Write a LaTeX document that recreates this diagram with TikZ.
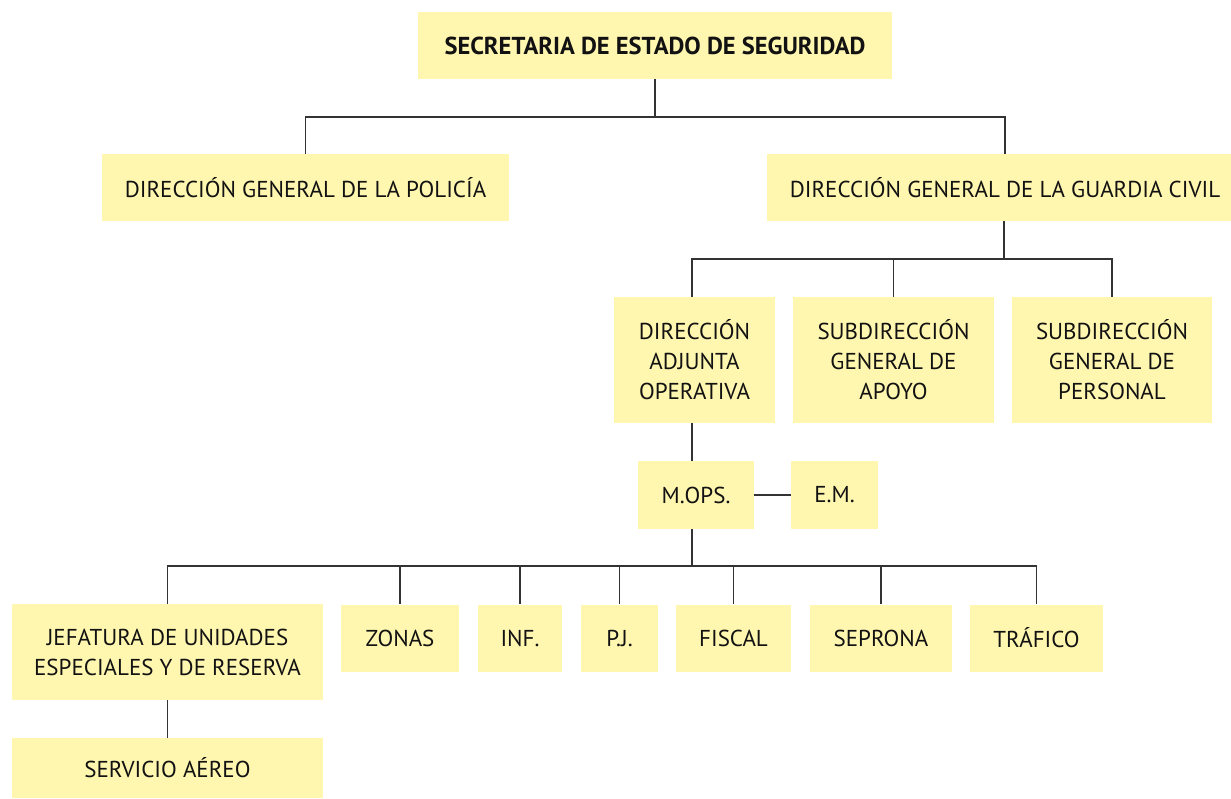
\documentclass[tikz,border=0pt]{standalone}
\usepackage{fontspec}
\setmainfont{PT Sans}
\usepackage{xcolor}
\usepackage{tikz}
\usetikzlibrary{positioning,calc}

\definecolor{boxyellow}{HTML}{FFF6B0}
\definecolor{linegray}{HTML}{333333}

\begin{document}
\begin{tikzpicture}[
  x=1pt, y=-1pt,
  unit/.style={fill=boxyellow, align=center, inner sep=0pt, text=black!93,
    font=\fontsize{23}{30}\selectfont},
  link/.style={draw=linegray, line width=1.1pt}
]
\useasboundingbox (0,0) rectangle (1231,798);
\begin{scope}
\clip (0,0) rectangle (1231,798);
% top levels
\node[unit, minimum width=474pt, minimum height=67pt, font=\fontsize{24.5}{30}\selectfont\bfseries] (ses) at (655,45.5) {SECRETARIA DE ESTADO DE SEGURIDAD};
\node[unit, minimum width=407pt, minimum height=67pt] (dgp) at (305.5,187.5) {DIRECCIÓN GENERAL DE LA POLICÍA};
\node[unit, minimum width=476pt, minimum height=67pt] (dggc) at (1005,187.5) {DIRECCIÓN GENERAL DE LA GUARDIA CIVIL};
% guardia civil
\node[unit, minimum width=161pt, minimum height=126pt] (dao) at (694.5,360) {DIRECCIÓN\\ADJUNTA\\OPERATIVA};
\node[unit, minimum width=201pt, minimum height=126pt] (sga) at (893.5,360) {SUBDIRECCIÓN\\GENERAL DE\\APOYO};
\node[unit, minimum width=200pt, minimum height=126pt] (sgp) at (1112,360) {SUBDIRECCIÓN\\GENERAL DE\\PERSONAL};
\node[unit, minimum width=116pt, minimum height=68pt] (mops) at (696,495) {M.OPS.};
\node[unit, minimum width=87pt, minimum height=68pt] (em) at (834.5,495) {E.M.};
% mando de operaciones
\node[unit, minimum width=311pt, minimum height=96pt] (jeur) at (167.5,652) {JEFATURA DE UNIDADES\\ESPECIALES Y DE RESERVA};
\node[unit, minimum width=118pt, minimum height=67pt] (zonas) at (400,638) {ZONAS};
\node[unit, minimum width=84pt, minimum height=67pt] (inf) at (520,638) {INF.};
\node[unit, minimum width=77pt, minimum height=67pt] (pj) at (619.5,638) {P.J.};
\node[unit, minimum width=115pt, minimum height=67pt] (fiscal) at (733.5,638) {FISCAL};
\node[unit, minimum width=142pt, minimum height=67pt] (seprona) at (881,638) {SEPRONA};
\node[unit, minimum width=133pt, minimum height=67pt] (trafico) at (1036.5,638) {TRÁFICO};
\node[unit, minimum width=311pt, minimum height=60pt] (saereo) at (167.5,768) {SERVICIO AÉREO};
\end{scope}
% bus lines
\coordinate (bus1) at (655,117);
\coordinate (bus2) at (1004,259);
\coordinate (bus3) at (692,566);
\draw[link] (ses.south) -- (bus1);
\draw[link] (dgp.north) |- (bus1) -| (dggc.north);
\draw[link] (dggc.south -| bus2) -- (bus2);
\draw[link] (dao.north -| 692,0) |- (bus2) -| (sgp.north);
\draw[link] (bus2 -| sga.north) -- (sga.north);
\draw[link] (dao.south -| bus3) -- (mops.north -| bus3);
\draw[link] (mops.east) -- (em.west);
\draw[link] (mops.south -| bus3) -- (bus3);
\draw[link] (jeur.north) |- (bus3) -| (trafico.north);
\foreach \n in {zonas,inf,pj,fiscal,seprona}
  \draw[link] (bus3 -| \n.north) -- (\n.north);
\draw[link] (jeur.south) -- (saereo.north);
\end{tikzpicture}
\end{document}
